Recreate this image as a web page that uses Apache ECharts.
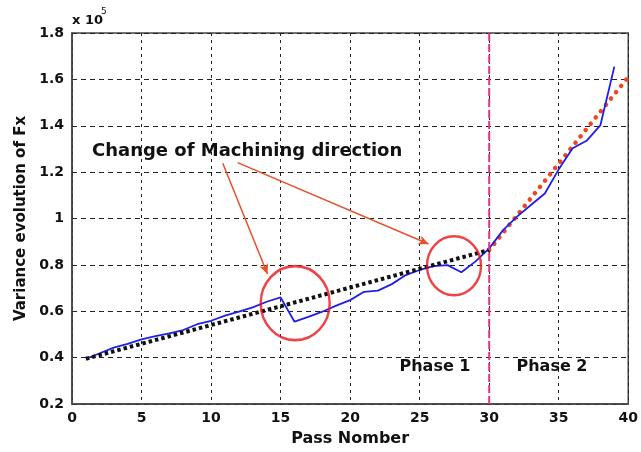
<!DOCTYPE html>
<html>
<head>
<meta charset="utf-8">
<script src="https://cdn.jsdelivr.net/npm/echarts@6/dist/echarts.min.js"></script>
<style>
  html, body { margin: 0; padding: 0; background: #fff; }
  #chart { width: 641px; height: 452px; }
</style>
</head>
<body>
<div id="chart"></div>
<script>
// Pass numbers and measured variance of Fx (x 10^5)
const passes = [1, 2, 3, 4, 5, 6, 7, 8, 9, 10, 11, 12, 13, 14, 15, 16, 17, 18, 19, 20,
                21, 22, 23, 24, 25, 26, 27, 28, 29, 30, 31, 32, 33, 34, 35, 36, 37, 38, 39];
const variance = [0.395, 0.419, 0.443, 0.459, 0.479, 0.493, 0.505, 0.519, 0.544, 0.559,
                  0.581, 0.598, 0.617, 0.641, 0.660, 0.555, 0.576, 0.598, 0.624, 0.648,
                  0.684, 0.689, 0.717, 0.756, 0.778, 0.795, 0.799, 0.768, 0.814, 0.871,
                  0.950, 1.008, 1.058, 1.108, 1.212, 1.303, 1.335, 1.403, 1.655];

// Linear trends for the two phases
const phase1TrendX = [1, 30];
const phase1TrendY = [0.395, 0.864];
const phase2TrendX = [30, 40];
const phase2TrendY = [0.864, 1.61];

// Phase boundary
const boundaryPass = 30;

// Direction-change zones (centre pass, centre value)
const zoneX = [16.05, 27.47];
const zoneY = [0.635, 0.796];

// Arrows from the annotation text to the zones
const arrowFromX = [10.84, 11.91];
const arrowFromY = [1.238, 1.241];
const arrowToX = [14.06, 25.64];
const arrowToY = [0.761, 0.890];

// Axis ranges
const xMin = 0, xMax = 40, xStep = 5;
const yMin = 0.2, yMax = 1.8, yStep = 0.2;

const FONT = 'DejaVu Sans';
const zip = (a, b) => a.map((v, i) => [v, b[i]]);

const chart = echarts.init(document.getElementById('chart'), null, { renderer: 'canvas' });

const gridLine = (dash) => ({
  show: true,
  lineStyle: { color: '#222', width: 1, type: dash }
});

chart.setOption({
  animation: false,
  backgroundColor: '#fff',
  grid: {
    left: 72, right: 10, top: 33, bottom: 48,
    show: true, borderColor: '#444', borderWidth: 1.5, backgroundColor: 'transparent'
  },
  xAxis: {
    type: 'value', min: xMin, max: xMax, interval: xStep,
    name: 'Pass Nomber', nameLocation: 'middle', nameGap: 27,
    nameTextStyle: { fontFamily: FONT, fontWeight: 'bold', fontSize: 16, color: '#111' },
    axisLine: { show: true, onZero: false, lineStyle: { color: '#444', width: 1.5 } },
    axisTick: { show: false },
    axisLabel: { fontFamily: FONT, fontWeight: 'bold', fontSize: 14, color: '#111', margin: 7 },
    splitLine: gridLine([3, 4])
  },
  yAxis: {
    type: 'value', min: yMin, max: yMax, interval: yStep,
    name: 'Variance evolution of Fx', nameLocation: 'middle', nameGap: 43,
    nameTextStyle: { fontFamily: FONT, fontWeight: 'bold', fontSize: 15, color: '#111' },
    axisLine: { show: true, lineStyle: { color: '#444', width: 1.5 } },
    axisTick: { show: false },
    axisLabel: {
      fontFamily: FONT, fontWeight: 'bold', fontSize: 14, color: '#111', margin: 8,
      formatter: v => String(+v.toFixed(1))
    },
    splitLine: gridLine([5, 4])
  },
  series: [
    {
      name: 'Phase 2 trend', type: 'line', data: zip(phase2TrendX, phase2TrendY),
      symbol: 'none', silent: true, z: 3,
      lineStyle: { color: '#f0461e', width: 4.5, type: [0.1, 8], cap: 'round' }
    },
    {
      name: 'Variance', type: 'line', data: zip(passes, variance),
      symbol: 'none', silent: true, z: 4,
      lineStyle: { color: '#1f1fe6', width: 1.8 }
    },
    {
      name: 'Phase 1 trend', type: 'line', data: zip(phase1TrendX, phase1TrendY),
      symbol: 'none', silent: true, z: 5,
      lineStyle: { color: '#111', width: 4, type: [3.5, 3] }
    },
    {
      name: 'Boundary', type: 'line', data: [[boundaryPass, yMin], [boundaryPass, yMax]],
      symbol: 'none', silent: true, z: 6,
      lineStyle: { color: '#e0358a', width: 2, type: [8, 3] }
    },
    {
      name: 'Zones', type: 'scatter', data: zip(zoneX, zoneY), silent: true, z: 7,
      symbol: 'circle',
      symbolSize: (v, p) => (p.dataIndex === 0 ? [69, 74] : [54, 59]),
      itemStyle: { color: 'transparent', borderColor: '#e8141c', borderWidth: 2.5 }
    },
    {
      name: 'Arrows', type: 'line', data: [], silent: true, z: 8,
      markLine: {
        silent: true, animation: false,
        symbol: ['none', 'arrow'], symbolSize: [7, 10],
        label: { show: false },
        lineStyle: { color: '#e8502a', width: 1.5, type: 'solid' },
        data: arrowFromX.map((x, i) => [
          { coord: [x, arrowFromY[i]] },
          { coord: [arrowToX[i], arrowToY[i]] }
        ])
      }
    }
  ],
  graphic: [
    {
      type: 'text', x: 92, y: 151, z: 100,
      style: {
        text: 'Change of Machining direction', fill: '#111',
        font: 'bold 18px "DejaVu Sans"', textVerticalAlign: 'middle'
      }
    },
    {
      type: 'text', x: 435, y: 367, z: 100,
      style: {
        text: 'Phase 1', fill: '#111', font: 'bold 16px "DejaVu Sans"',
        textAlign: 'center', textVerticalAlign: 'middle'
      }
    },
    {
      type: 'text', x: 552, y: 367, z: 100,
      style: {
        text: 'Phase 2', fill: '#111', font: 'bold 16px "DejaVu Sans"',
        textAlign: 'center', textVerticalAlign: 'middle'
      }
    },
    {
      type: 'text', x: 72, y: 21, z: 100,
      style: {
        text: 'x 10', fill: '#111', font: 'bold 13px "DejaVu Sans"',
        textVerticalAlign: 'middle'
      }
    },
    {
      type: 'text', x: 101, y: 12, z: 100,
      style: {
        text: '5', fill: '#111', font: '9px "DejaVu Sans"',
        textVerticalAlign: 'middle'
      }
    }
  ]
});
</script>
</body>
</html>
